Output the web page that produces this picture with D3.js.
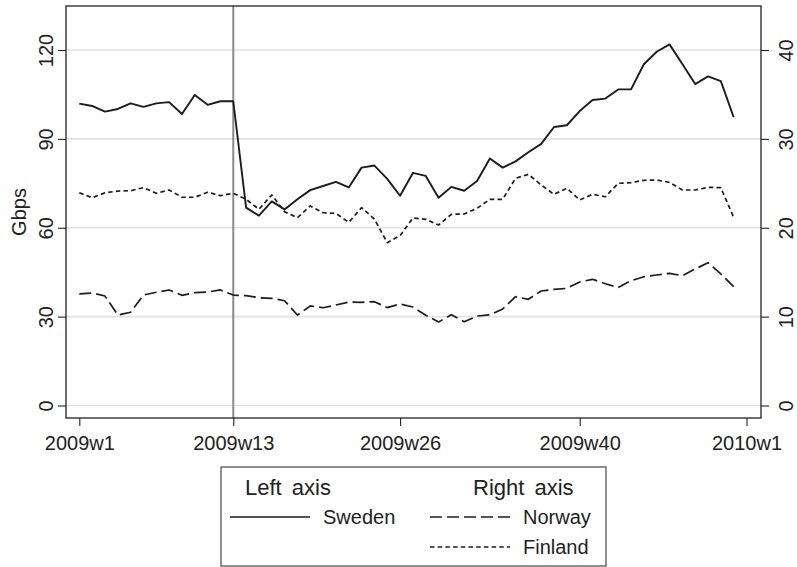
<!DOCTYPE html>
<html>
<head>
<meta charset="utf-8">
<script src="https://cdnjs.cloudflare.com/ajax/libs/d3/7.8.5/d3.min.js"></script>
<style>
  body { margin: 0; background: #fff; }
  svg text { font-family: "Liberation Sans", Arial, sans-serif; fill: #222; }
</style>
</head>
<body>
<svg id="chart" width="797" height="567"></svg>
<script>
// Week numbers (2009w1 .. 2009w52)
var weeks = [1, 2, 3, 4, 5, 6, 7, 8, 9, 10, 11, 12, 13, 14, 15, 16, 17, 18, 19, 20,
    21, 22, 23, 24, 25, 26, 27, 28, 29, 30, 31, 32, 33, 34, 35, 36, 37, 38, 39, 40,
    41, 42, 43, 44, 45, 46, 47, 48, 49, 50, 51, 52];

// Left axis (Gbps)
var sweden = [101.9, 101.1, 99.2, 100.1, 102.0, 100.8, 102.0, 102.4, 98.4, 104.8,
    101.5, 102.7, 102.7, 66.8, 64.1, 68.9, 66.2, 69.6, 72.7, 74.1,
    75.5, 73.6, 80.3, 81.0, 76.5, 70.8, 78.5, 77.5, 70.1, 73.8,
    72.5, 75.8, 83.4, 80.3, 82.4, 85.5, 88.3, 94.0, 94.6, 99.4,
    103.1, 103.6, 106.7, 106.7, 115.2, 119.4, 121.9, 115.3, 108.5, 111.1,
    109.5, 97.3];

// Right axis
var norway = [12.55, 12.66, 12.32, 10.18, 10.49, 12.43, 12.74, 13.0, 12.40, 12.69,
    12.77, 13.0, 12.43, 12.36, 12.13, 12.06, 11.79, 10.18, 11.2, 11.0,
    11.31, 11.63, 11.61, 11.68, 11.02, 11.42, 11.08, 10.16, 9.4, 10.22,
    9.43, 10.07, 10.2, 10.86, 12.24, 11.95, 12.88, 13.07, 13.18, 13.9,
    14.2, 13.7, 13.28, 14.04, 14.49, 14.68, 14.87, 14.6, 15.36, 16.07,
    14.8, 13.37];

var finland = [23.94, 23.38, 23.94, 24.13, 24.17, 24.51, 23.88, 24.25, 23.43, 23.43,
    23.99, 23.61, 23.88, 23.2, 22.08, 23.69, 21.81, 21.13, 22.45, 21.69,
    21.62, 20.61, 22.26, 20.98, 18.32, 19.11, 21.10, 20.95, 20.31, 21.51,
    21.55, 22.19, 23.2, 23.2, 25.56, 26.01, 24.81, 23.76, 24.44, 23.12,
    23.76, 23.49, 25.0, 25.07, 25.34, 25.37, 25.11, 24.25, 24.25, 24.55,
    24.51, 21.17];

var xTicks = [1, 13, 26, 40, 53];
var xTickLabels = ["2009w1", "2009w13", "2009w26", "2009w40", "2010w1"];
var leftTicks = [0, 30, 60, 90, 120];
var rightTicks = [0, 10, 20, 30, 40];
var markerWeek = 13;

// Plot region
var frame = { left: 66, right: 761, top: 6, bottom: 418 };

var svg = d3.select("#chart");

var x = d3.scaleLinear().domain([1, 53]).range([79.3, 746.5]);
var yLeft = d3.scaleLinear().domain([0, 120]).range([405.5, 50]);
var yRight = d3.scaleLinear().domain([0, 40]).range([405.5, 50]);

// Grid lines
svg.append("g").selectAll("line")
    .data(leftTicks)
    .enter().append("line")
    .attr("x1", frame.left).attr("x2", frame.right)
    .attr("y1", function (d) { return yLeft(d); })
    .attr("y2", function (d) { return yLeft(d); })
    .style("stroke", "#e2e2e2")
    .style("stroke-width", 1.6);

// Vertical reference line at 2009w13
svg.append("line")
    .attr("x1", x(markerWeek)).attr("x2", x(markerWeek))
    .attr("y1", frame.top).attr("y2", frame.bottom)
    .style("stroke", "#8a8a8a")
    .style("stroke-width", 2);

// Series lines
function drawSeries(values, yScale, dash, width) {
    var line = d3.line()
        .x(function (d, i) { return x(weeks[i]); })
        .y(function (d) { return yScale(d); });
    svg.append("path")
        .datum(values)
        .attr("d", line)
        .style("fill", "none")
        .style("stroke", "#1c1c1c")
        .style("stroke-width", width)
        .style("stroke-linejoin", "round")
        .style("stroke-dasharray", dash);
}

drawSeries(finland, yRight, "4.5,3.2", 1.7);
drawSeries(norway, yRight, "12,5", 1.7);
drawSeries(sweden, yLeft, null, 1.9);

// Frame
svg.append("rect")
    .attr("x", frame.left).attr("y", frame.top)
    .attr("width", frame.right - frame.left)
    .attr("height", frame.bottom - frame.top)
    .style("fill", "none")
    .style("stroke", "#222")
    .style("stroke-width", 1.3);

// Left axis
var leftAxis = svg.append("g")
    .attr("transform", "translate(" + frame.left + ",0)")
    .call(d3.axisLeft(yLeft).tickValues(leftTicks).tickSize(8).tickPadding(5));
leftAxis.select(".domain").remove();
leftAxis.selectAll("line").style("stroke", "#222").style("stroke-width", 1.1);
leftAxis.selectAll("text")
    .attr("x", null).attr("dy", null)
    .style("font-size", "20px")
    .attr("text-anchor", "middle")
    .attr("transform", "translate(-13,0) rotate(-90)");

// Right axis
var rightAxis = svg.append("g")
    .attr("transform", "translate(" + frame.right + ",0)")
    .call(d3.axisRight(yRight).tickValues(rightTicks).tickSize(8));
rightAxis.select(".domain").remove();
rightAxis.selectAll("line").style("stroke", "#222").style("stroke-width", 1.1);
rightAxis.selectAll("text")
    .attr("x", null).attr("dy", null)
    .style("font-size", "20px")
    .attr("text-anchor", "middle")
    .attr("transform", "translate(32,0) rotate(-90)");

// Bottom axis
var bottomAxis = svg.append("g")
    .attr("transform", "translate(0," + frame.bottom + ")")
    .call(d3.axisBottom(x).tickValues(xTicks)
        .tickFormat(function (d, i) { return xTickLabels[i]; })
        .tickSize(8).tickPadding(10));
bottomAxis.select(".domain").remove();
bottomAxis.selectAll("line").style("stroke", "#222").style("stroke-width", 1.1);
bottomAxis.selectAll("text").style("font-size", "20px").attr("dy", "0.71em");

// Axis title
svg.append("text")
    .attr("transform", "translate(26," + ((frame.top + frame.bottom) / 2) + ") rotate(-90)")
    .attr("text-anchor", "middle")
    .style("font-size", "20px")
    .text("Gbps");

// Legend
var legend = svg.append("g");
legend.append("rect")
    .attr("x", 221).attr("y", 467)
    .attr("width", 385).attr("height", 99)
    .style("fill", "#fff")
    .style("stroke", "#555")
    .style("stroke-width", 1.3);

legend.append("text").attr("x", 245).attr("y", 495)
    .style("font-size", "22px").style("word-spacing", "4px").text("Left axis");
legend.append("text").attr("x", 473).attr("y", 495)
    .style("font-size", "22px").style("word-spacing", "4px").text("Right axis");

var legendItems = [
    { name: "Sweden", dash: null, x1: 230, x2: 310, tx: 323, y: 517, ty: 524 },
    { name: "Norway", dash: "12,5", x1: 430, x2: 510, tx: 523, y: 517, ty: 524 },
    { name: "Finland", dash: "4.5,3.2", x1: 430, x2: 510, tx: 523, y: 547, ty: 554 }
];
legendItems.forEach(function (item) {
    legend.append("line")
        .attr("x1", item.x1).attr("x2", item.x2)
        .attr("y1", item.y).attr("y2", item.y)
        .style("stroke", "#1c1c1c")
        .style("stroke-width", 1.7)
        .style("stroke-dasharray", item.dash);
    legend.append("text")
        .attr("x", item.tx).attr("y", item.ty)
        .style("font-size", "20px")
        .text(item.name);
});
</script>
</body>
</html>
